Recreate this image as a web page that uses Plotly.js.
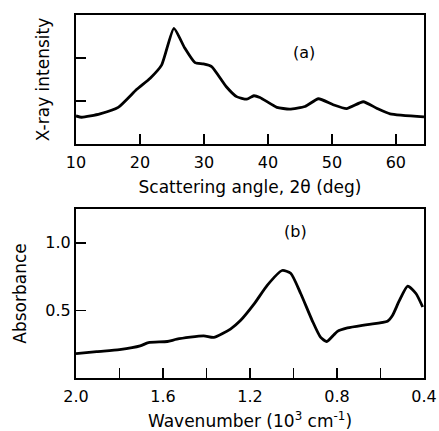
<!DOCTYPE html>
<html>
<head>
<meta charset="utf-8">
<script src="https://cdn.plot.ly/plotly-3.0.1.min.js"></script>
<style>html,body{margin:0;padding:0;background:#fff;}#chart{width:439px;height:431px;}</style>
</head>
<body>
<div id="chart"></div>
<script>
// Panel (a): X-ray diffraction
const angleA = [10, 10.9, 13.75, 16.6, 19.5, 21.6, 23.4, 25.3, 27.0, 28.6, 29.9, 31.2, 33.5, 35.1, 36.7, 37.8, 38.75, 41.4, 43.4, 45.8, 47.9, 50.2, 52.3, 54.9, 57.0, 59.1, 64.4];
const intensityA = [0.65, 0.62, 0.70, 0.85, 1.27, 1.53, 1.84, 2.69, 2.23, 1.89, 1.86, 1.80, 1.33, 1.10, 1.04, 1.12, 1.08, 0.85, 0.81, 0.87, 1.05, 0.91, 0.82, 0.98, 0.83, 0.70, 0.63];
const angleTicks = [10, 20, 30, 40, 50, 60];

// Panel (b): IR absorbance
const waveB = [2.0, 1.905, 1.80, 1.705, 1.667, 1.58, 1.536, 1.413, 1.367, 1.29, 1.244, 1.18, 1.12, 1.052, 1.013, 0.967, 0.914, 0.875, 0.847, 0.814, 0.798, 0.752, 0.66, 0.568, 0.545, 0.514, 0.475, 0.437, 0.406];
const absB = [0.18, 0.195, 0.21, 0.237, 0.262, 0.27, 0.287, 0.312, 0.30, 0.362, 0.425, 0.55, 0.687, 0.795, 0.775, 0.625, 0.425, 0.30, 0.27, 0.32, 0.345, 0.37, 0.395, 0.42, 0.462, 0.57, 0.68, 0.625, 0.525];
const waveTicks = [2.0, 1.8, 1.6, 1.4, 1.2, 1.0, 0.8, 0.6, 0.4];
const waveTickText = ['2.0', '', '1.6', '', '1.2', '', '0.8', '', '0.4'];
const absTicks = [0.5, 1.0];
const absTickText = ['0.5', '1.0'];

const FONT = 'DejaVu Sans, Liberation Sans, sans-serif';
const axisCommon = {
  showline: true, mirror: true, linecolor: '#000', linewidth: 2,
  ticks: 'inside', ticklen: 10, tickwidth: 1.5, tickcolor: '#000',
  showgrid: false, zeroline: false,
  tickfont: {family: FONT, size: 16, color: '#000'}
};

const traces = [
  {x: angleA, y: intensityA, xaxis: 'x', yaxis: 'y', type: 'scatter', mode: 'lines',
   line: {color: '#000', width: 2.8, shape: 'spline', smoothing: 0.5}, hoverinfo: 'none'},
  {x: waveB, y: absB, xaxis: 'x2', yaxis: 'y2', type: 'scatter', mode: 'lines',
   line: {color: '#000', width: 2.8, shape: 'spline', smoothing: 0.6}, hoverinfo: 'none'}
];

const layout = {
  width: 439, height: 431,
  margin: {l: 76, r: 15, t: 15, b: 53},
  paper_bgcolor: '#fff', plot_bgcolor: '#fff',
  showlegend: false,
  font: {family: FONT, color: '#000'},
  xaxis: Object.assign({}, axisCommon, {
    domain: [0, 1], anchor: 'y', range: [10, 64.4],
    tickvals: angleTicks, ticktext: angleTicks.map(String), ticklabelstandoff: 3,
    title: {text: 'Scattering angle, 2θ (deg)', font: {family: FONT, size: 17}, standoff: 10}
  }),
  yaxis: Object.assign({}, axisCommon, {
    domain: [0.645, 1], anchor: 'x', range: [0, 3],
    tickvals: [1, 2], showticklabels: false,
    title: {text: 'X-ray intensity', font: {family: FONT, size: 17}, standoff: 20}
  }),
  xaxis2: Object.assign({}, axisCommon, {
    domain: [0, 1], anchor: 'y2', range: [2.0, 0.4],
    tickvals: waveTicks, ticktext: waveTickText, ticklabelstandoff: 3,
    title: {text: 'Wavenumber (10<sup>3</sup> cm<sup>-1</sup>)', font: {family: FONT, size: 17}, standoff: 16}
  }),
  yaxis2: Object.assign({}, axisCommon, {
    domain: [0, 0.4656], anchor: 'x2', range: [0, 1.25],
    tickvals: absTicks, ticktext: absTickText,
    title: {text: 'Absorbance', font: {family: FONT, size: 17}, standoff: 14}
  }),
  annotations: [
    {text: '(a)', xref: 'x', yref: 'y', x: 45.6, y: 2.12, showarrow: false, font: {family: FONT, size: 16}},
    {text: '(b)', xref: 'x2', yref: 'y2', x: 0.99, y: 1.08, showarrow: false, font: {family: FONT, size: 16}}
  ]
};

Plotly.newPlot('chart', traces, layout, {displayModeBar: false, staticPlot: true});
</script>
</body>
</html>
